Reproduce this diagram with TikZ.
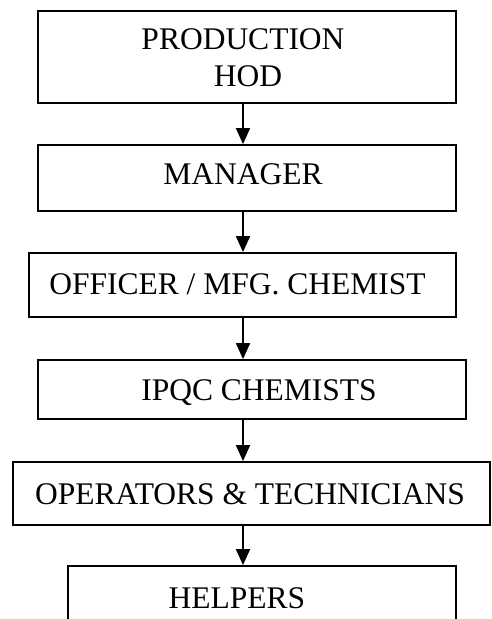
\documentclass[tikz,border=0pt]{standalone}
\usepackage{fontspec}
\setmainfont{Liberation Serif}
\usetikzlibrary{arrows.meta}
\begin{document}
\begin{tikzpicture}[x=1pt,y=-1pt,
  box/.style={draw=black,line width=1.8pt,rectangle,inner sep=0pt},
  lbl/.style={font=\fontsize{31.5}{37}\selectfont,inner sep=0pt,text=black,text height=20.85pt,text depth=0pt},
  arr/.style={line width=1.8pt,-{Triangle[width=14pt,length=16pt]}}]
\clip (0,0) rectangle (492,619);
\fill[white] (0,0) rectangle (492,619);
\coordinate (ax) at (243,0);
\node[box,minimum width=418pt,minimum height=92pt,
  label={[lbl,xshift=-4pt,yshift=17.43pt]center:PRODUCTION},
  label={[lbl,xshift=1pt,yshift=-19.57pt]center:HOD}] (b1) at (247,57) {};
\node[box,minimum width=418pt,minimum height=66pt,
  label={[lbl,xshift=-4pt,yshift=3.43pt]center:MANAGER}] (b2) at (247,178) {};
\node[box,minimum width=427pt,minimum height=64pt,
  label={[lbl,xshift=-5pt,yshift=1.13pt]center:OFFICER / MFG. CHEMIST}] (b3) at (242.5,285) {};
\node[box,minimum width=428pt,minimum height=59pt,
  label={[lbl,xshift=7pt,yshift=-0.07pt]center:IPQC CHEMISTS}] (b4) at (252,389.5) {};
\node[box,minimum width=477pt,minimum height=63pt,
  label={[lbl,xshift=-1.5pt,yshift=-0.07pt]center:OPERATORS \& TECHNICIANS}] (b5) at (251.5,493.5) {};
\node[box,minimum width=388pt,minimum height=74pt,
  label={[lbl,xshift=-25pt,yshift=5.43pt]center:HELPERS}] (b6) at (262,603) {};
\draw[arr] (b1.south -| ax) -- (b2.north -| ax);
\draw[arr] (b2.south -| ax) -- (b3.north -| ax);
\draw[arr] (b3.south -| ax) -- (b4.north -| ax);
\draw[arr] (b4.south -| ax) -- (b5.north -| ax);
\draw[arr] (b5.south -| ax) -- (b6.north -| ax);
\end{tikzpicture}
\end{document}
